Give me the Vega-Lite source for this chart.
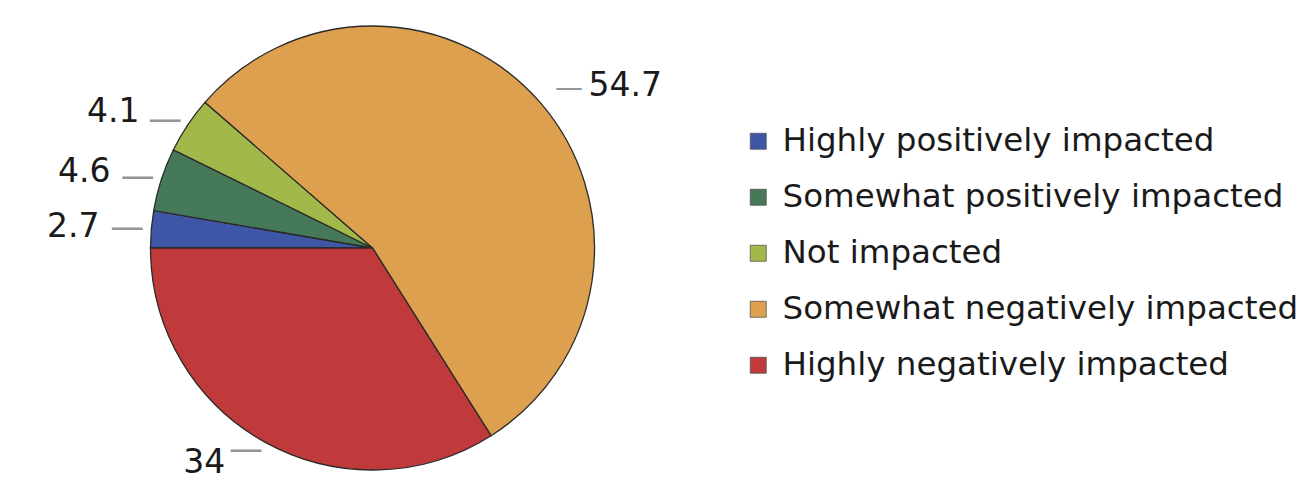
{
  "$schema": "https://vega.github.io/schema/vega-lite/v6.json",
  "width": 745,
  "height": 462,
  "padding": {"left": 0, "top": 17, "right": 0, "bottom": 0},
  "autosize": {"type": "pad"},
  "background": "white",
  "config": {"view": {"stroke": null}},
  "data": {
    "values": [
      {"category": "Highly positively impacted", "value": 2.7, "order": 1},
      {"category": "Somewhat positively impacted", "value": 4.6, "order": 2},
      {"category": "Not impacted", "value": 4.1, "order": 3},
      {"category": "Somewhat negatively impacted", "value": 54.7, "order": 4},
      {"category": "Highly negatively impacted", "value": 34, "order": 5}
    ]
  },
  "encoding": {
    "theta": {
      "field": "value",
      "type": "quantitative",
      "stack": true,
      "scale": {"range": [-1.5707963, 4.712389]}
    },
    "order": {"field": "order", "type": "quantitative"}
  },
  "layer": [
    {
      "mark": {"type": "arc", "outerRadius": 222, "stroke": "#2a2a2a", "strokeWidth": 1.3},
      "encoding": {
        "color": {
          "field": "category",
          "type": "nominal",
          "sort": null,
          "scale": {
            "domain": ["Highly positively impacted", "Somewhat positively impacted", "Not impacted", "Somewhat negatively impacted", "Highly negatively impacted"],
            "range": ["#3f56a6", "#46785a", "#a3b84a", "#dda04e", "#c0393b"]
          },
          "legend": {
            "orient": "none",
            "legendX": 742,
            "legendY": 108,
            "title": null,
            "symbolType": "square",
            "symbolSize": 256,
            "symbolStrokeColor": "#555555",
            "symbolStrokeWidth": 0.8,
            "labelFont": "DejaVu Sans",
            "labelFontSize": 32.5,
            "labelColor": "#1a1a1a",
            "labelOffset": 8,
            "labelLimit": 700,
            "rowPadding": 23,
            "padding": 0
          }
        }
      }
    },
    {
      "mark": {"type": "text", "radius": 231, "align": "center", "baseline": "middle", "dx": -15, "dy": 0, "font": "DejaVu Sans", "fontSize": 34, "color": "#959595"},
      "encoding": {
        "detail": {"field": "category", "type": "nominal"},
        "text": {"condition": {"test": "datum.category !== 'Somewhat negatively impacted'", "value": "—"}, "value": ""}
      }
    },
    {
      "mark": {"type": "text", "radius": 230, "align": "center", "baseline": "middle", "dx": 22, "dy": -9, "font": "DejaVu Sans", "fontSize": 28, "color": "#959595"},
      "encoding": {
        "detail": {"field": "category", "type": "nominal"},
        "text": {"condition": {"test": "datum.category === 'Somewhat negatively impacted'", "value": "—"}, "value": ""}
      }
    },
    {
      "mark": {"type": "text", "radius": 245, "align": "right", "baseline": "middle", "dx": -29, "dy": 0, "font": "DejaVu Sans", "fontSize": 33, "color": "#1a1a1a"},
      "encoding": {
        "detail": {"field": "category", "type": "nominal"},
        "text": {"condition": {"test": "datum.category !== 'Somewhat negatively impacted'", "field": "value", "type": "quantitative"}, "value": ""}
      }
    },
    {
      "mark": {"type": "text", "radius": 253, "align": "left", "baseline": "middle", "dx": 24, "dy": 3, "font": "DejaVu Sans", "fontSize": 33, "color": "#1a1a1a"},
      "encoding": {
        "detail": {"field": "category", "type": "nominal"},
        "text": {"condition": {"test": "datum.category === 'Somewhat negatively impacted'", "field": "value", "type": "quantitative"}, "value": ""}
      }
    }
  ]
}
